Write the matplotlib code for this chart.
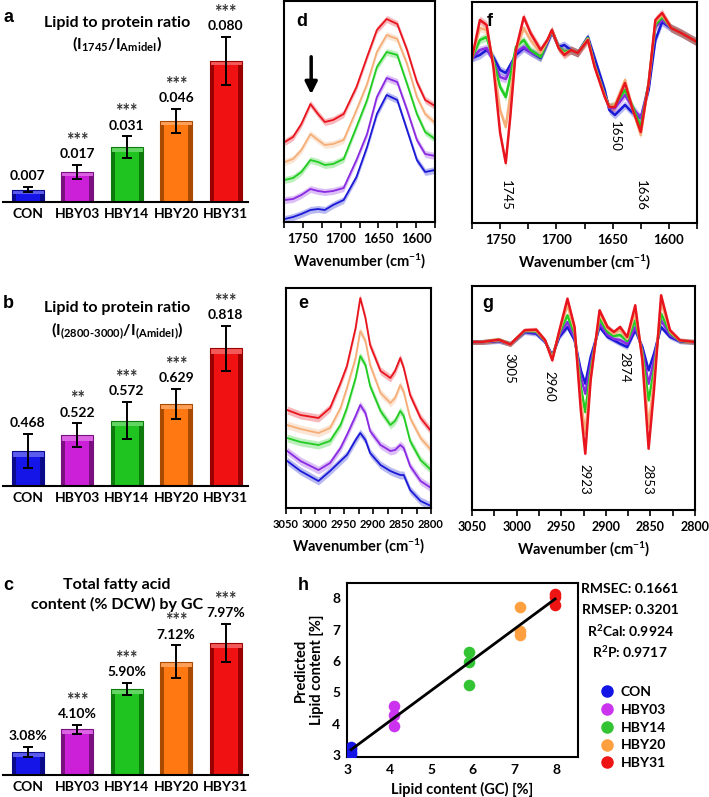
import numpy as np
import matplotlib
matplotlib.use("Agg")
import matplotlib.pyplot as plt
from matplotlib.ticker import MultipleLocator
from matplotlib.lines import Line2D

plt.rcParams['font.family'] = ['Lato', 'DejaVu Sans']
plt.rcParams['font.weight'] = 'bold'
plt.rcParams['axes.labelweight'] = 'bold'
plt.rcParams['mathtext.fontset'] = 'custom'
plt.rcParams['mathtext.rm'] = 'Lato:bold'
plt.rcParams['mathtext.it'] = 'Lato:bold'
plt.rcParams['mathtext.bf'] = 'Lato:bold'
plt.rcParams['mathtext.default'] = 'rm'

W, H = 709, 797

groups = ["CON", "HBY03", "HBY14", "HBY20", "HBY31"]
bar_colors = ["#1515e8", "#cc20d8", "#20c420", "#ff7812", "#f01212"]
bar_edges = ["#0a0a8a", "#7a1080", "#0e7a0e", "#a84a00", "#9a0000"]
line_colors = ["#1a1ad6", "#8a2be2", "#22cc22", "#f5ae78", "#e8141e"]
dot_colors = ["#1414e6", "#cc33ee", "#33c433", "#ffa040", "#ee1414"]

# panel a: lipid to protein ratio (1745 / amide I)
ratio_1745 = [0.007, 0.017, 0.031, 0.046, 0.080]
ratio_1745_err = [0.0015, 0.0042, 0.0062, 0.0068, 0.0136]
stars_a = ["", "***", "***", "***", "***"]

# panel b: lipid to protein ratio (2800-3000 / amide I)
ratio_ch = [0.468, 0.522, 0.572, 0.629, 0.818]
ratio_ch_err = [0.058, 0.041, 0.063, 0.051, 0.078]
stars_b = ["", "**", "***", "***", "***"]

# panel c: total fatty acid content (% DCW) by GC
fa_content = [3.08, 4.10, 5.90, 7.12, 7.97]
fa_content_err = [0.22, 0.2, 0.27, 0.74, 0.87]
stars_c = ["", "***", "***", "***", "***"]

# panel d: mean spectra 1775-1575 cm-1 (offset, arbitrary units)
d_wn = [1774, 1763, 1752, 1740, 1730, 1721, 1710, 1696, 1679, 1665, 1652, 1639, 1625, 1612, 1599, 1588, 1575]
d_con = [3, 5, 8, 12, 13, 12, 17, 22, 45, 75, 108, 127, 122, 92, 62, 50, 52]
d_hby03 = [22, 23, 27, 33, 31, 30, 31, 34, 62, 88, 125, 144, 140, 112, 82, 68, 66]
d_hby14 = [42, 44, 50, 62, 60, 57, 58, 63, 95, 122, 155, 170, 167, 138, 108, 90, 83]
d_hby20 = [60, 63, 72, 88, 82, 77, 78, 82, 112, 138, 170, 187, 183, 158, 125, 108, 99]
d_hby31 = [80, 85, 98, 118, 108, 100, 102, 108, 135, 165, 192, 203, 198, 172, 140, 122, 116]

# panel e: mean spectra 3050-2800 cm-1
e_wn = [3048, 3025, 2994, 2974, 2956, 2945, 2930, 2922, 2913, 2905, 2887, 2870, 2862, 2853, 2847, 2836, 2818, 2800]
e_con = [47, 37, 27, 37, 47, 53, 68, 75, 68, 55, 43, 37, 35, 33, 33, 18, 7, 2]
e_hby03 = [57, 47, 38, 45, 60, 73, 92, 103, 95, 77, 63, 57, 58, 63, 60, 42, 27, 20]
e_hby14 = [70, 66, 63, 67, 83, 100, 130, 152, 143, 122, 97, 83, 87, 97, 92, 67, 48, 38]
e_hby20 = [83, 79, 75, 80, 100, 120, 150, 177, 167, 143, 115, 105, 110, 123, 116, 90, 70, 58]
e_hby31 = [98, 93, 90, 100, 125, 142, 180, 210, 190, 163, 137, 130, 137, 150, 140, 113, 90, 77]

# panel f: second derivative 1775-1575 cm-1
f_wn = [1775, 1768, 1762, 1756, 1750, 1745, 1741, 1736, 1729, 1723, 1714, 1708, 1704, 1698, 1693,
        1687, 1681, 1672, 1666, 1657, 1653, 1648, 1639, 1632, 1625, 1618, 1612, 1606, 1598, 1589, 1575]
f_con = [-3, 0, 5, -2, -15, -18, -10, 0, 7, 3, -3, 12, 23, 8, 10, 5, 2, 18, -3, -35, -55, -60, -50, -58, -63, -35, 15, 33, 27, 22, 13]
f_hby03 = [-3, 5, 7, -6, -22, -24, -14, 3, 8, 3, -2, 13, 24, 8, 3, 5, 2, 17, -10, -40, -53, -53, -40, -53, -63, -30, 28, 35, 27, 22, 13]
f_hby14 = [-3, 15, 18, -5, -32, -42, -22, 8, 15, 5, -2, 14, 24, 8, 3, 5, 2, 17, -10, -40, -52, -50, -35, -52, -72, -28, 30, 38, 27, 22, 13]
f_hby20 = [-3, 27, 25, -8, -55, -72, -40, 5, 27, 15, 2, 14, 25, 7, 1, 5, 2, 16, -11, -41, -52, -50, -25, -55, -80, -28, 33, 40, 27, 22, 13]
f_hby31 = [-3, 35, 30, -12, -78, -108, -62, 5, 38, 22, 5, 15, 25, 7, 0, 5, 2, 15, -12, -42, -52, -52, -28, -55, -77, -28, 35, 42, 27, 22, 13]

# panel g: second derivative 3050-2800 cm-1
g_wn = [3050, 3039, 3020, 3007, 2991, 2978, 2968, 2960, 2952, 2943, 2935, 2928, 2923, 2917,
        2907, 2898, 2891, 2884, 2876, 2867, 2859, 2852, 2846, 2838, 2828, 2817, 2800]
g_con = [0, 0, 1, -1.7, 10, 8.3, 0, -13.3, 5, 15, 1.7, -28.3, -41.7, -15, 15, 5, 1.7, -1.7, -5, 11.7, -5, -28.3, -11.7, 15, 5, 0.7, 0]
g_hby03 = [0, 0, 1.5, -2, 10.5, 9.5, 0.5, -14.3, 7, 20, 4, -35, -51.7, -21.7, 18.3, 7, 3, 2, -2, 15, -8, -41.7, -18.3, 21.7, 7, 1, 0]
g_hby14 = [0, 0, 2, -2, 11, 10.5, 1, -15.7, 9, 26.7, 8, -45, -70, -28.3, 23.3, 10, 6, 7, 1, 21.7, -11, -58.3, -28.3, 28.3, 9, 1.2, 0]
g_hby20 = [0, 0, 2, -2.2, 11.5, 11.5, 1.5, -17, 10.5, 36.7, 12, -58, -91.7, -35, 28.3, 13, 8, 12, 3, 30, -15, -85, -38, 40, 10.5, 1.5, 0]
g_hby31 = [0, 0, 2.3, -2.3, 11.7, 12.3, 1.7, -18.3, 11.7, 43.3, 15, -68.3, -111.7, -38.3, 31.7, 15, 10, 15, 5, 36.7, -18.3, -106.7, -48.3, 46.7, 11.7, 1.7, 0]

# panel h: PLS prediction vs GC
h_gc = [[3.08, 3.08, 3.08, 3.08], [4.10, 4.10, 4.10], [5.90, 5.90, 5.90], [7.12, 7.12, 7.12], [7.97, 7.97, 7.97]]
h_pred = [[3.05, 3.12, 3.22, 3.28], [4.57, 4.28, 3.94], [6.28, 5.98, 5.23], [7.73, 6.97, 6.84], [8.14, 8.03, 7.79]]
h_stats = ["RMSEC: 0.1661", "RMSEP: 0.3201", "R$^2$Cal: 0.9924", "R$^2$P: 0.9717"]

fig = plt.figure(figsize=(W / 100, H / 100), dpi=100)


def add_axes(x0, y0, x1, y1):
    return fig.add_axes([x0 / W, 1 - y1 / H, (x1 - x0) / W, (y1 - y0) / H])


def ftext(x, y, s, **kw):
    fig.text(x / W, 1 - y / H, s, **kw)


def bar_panel(rect, vals, errs, stars, ylim, fmt):
    ax = add_axes(*rect)
    xs = np.arange(len(vals))
    vals = np.array(vals)
    bw = 0.64
    side = 0.08
    top = 0.022 * (ylim[1] - ylim[0])
    # bevelled bar look: dark sides, lighter top rim, main face
    ax.bar(xs, vals, width=bw, color=bar_edges, linewidth=0)
    ax.bar(xs, top, bottom=vals - top, width=bw, color=bar_colors, linewidth=0)
    ax.bar(xs, top, bottom=vals - top, width=bw, color='white', alpha=0.3, linewidth=0)
    ax.bar(xs, vals - top, width=bw - 2 * side, color=bar_colors, linewidth=0)
    ax.bar(xs, vals, width=bw, fill=False, edgecolor=bar_edges, linewidth=0.8)
    ax.errorbar(xs, vals, yerr=errs, fmt='none', ecolor='black', elinewidth=1.4, capsize=3.5, capthick=1.4)
    for x, v, e, s in zip(xs, vals, errs, stars):
        ax.annotate(fmt.format(v), (x, v + e), xytext=(0, 3.5), textcoords='offset points',
                    ha='center', va='bottom', fontsize=10)
        if s:
            ax.annotate(s, (x, v + e), xytext=(0, 11.5), textcoords='offset points',
                        ha='center', va='bottom', fontsize=13, color='#333333')
    ax.set_xlim(-0.5, 4.45)
    ax.set_ylim(ylim)
    ax.set_yticks([])
    ax.set_xticks(xs, groups)
    ax.tick_params(axis='x', length=0, pad=4, labelsize=10)
    for s in ['left', 'right', 'top']:
        ax.spines[s].set_visible(False)
    ax.spines['bottom'].set_linewidth(1.5)
    return ax


bar_panel((3, 0, 248, 202), ratio_1745, ratio_1745_err, stars_a, (0, 0.1146), "{:.3f}")
ftext(8, 18, "a", fontsize=13, family='Liberation Sans', ha='center', va='center')
ftext(117, 23, "Lipid to protein ratio", fontsize=11.5, ha='center', va='center')
ftext(117, 44, "(I$_{1745}$/I$_{AmideI}$)", fontsize=11.5, ha='center', va='center')

bar_panel((3, 240, 248, 486), ratio_ch, ratio_ch_err, stars_b, (0.35, 1.187), "{:.3f}")
ftext(8, 303, "b", fontsize=13, family='Liberation Sans', ha='center', va='center')
ftext(117, 308, "Lipid to protein ratio", fontsize=11.5, ha='center', va='center')
ftext(117, 331, r"(I$_{(2800\text{-}3000)}$/I$_{(AmideI)}$)", fontsize=11.5, ha='center', va='center')

bar_panel((3, 540, 248, 775), fa_content, fa_content_err, stars_c, (2.05, 12.59), "{:.2f}%")
ftext(8, 585, "c", fontsize=13, family='Liberation Sans', ha='center', va='center')
ftext(117, 585, "Total fatty acid", fontsize=11.5, ha='center', va='center')
ftext(117, 604, "content (% DCW) by GC", fontsize=11.5, ha='center', va='center')


def spec_panel(rect, wn, curves, xlim, ylim, band, lw, tsize):
    ax = add_axes(*rect)
    wn = np.array(wn, float)
    for y, c in zip(curves, line_colors):
        y = np.array(y, float)
        ax.fill_between(wn, y - band, y + band, color=c, alpha=0.3, lw=0)
        ax.plot(wn, y, color=c, lw=lw)
    ax.set_xlim(xlim)
    ax.set_ylim(ylim)
    ax.set_yticks([])
    ax.xaxis.set_major_locator(MultipleLocator(50))
    ax.xaxis.set_minor_locator(MultipleLocator(25))
    ax.tick_params(axis='x', which='both', direction='out', length=4, width=1.2, labelsize=tsize, pad=4)
    for s in ax.spines.values():
        s.set_linewidth(1.5)
    ax.set_xlabel("Wavenumber (cm$^{-1}$)", fontsize=10.5, labelpad=5)
    return ax


ax_d = spec_panel((284, 1, 435, 222), d_wn, [d_con, d_hby03, d_hby14, d_hby20, d_hby31],
                  (1775, 1575), (0, 221), 3.5, 1.3, 9.5)
ax_d.annotate("", xy=(1739, 125), xytext=(1739, 168),
              arrowprops=dict(arrowstyle='-|>', lw=2.5, color='black', mutation_scale=18))
ftext(302, 22, "d", fontsize=13, family='Liberation Sans', ha='center', va='center')

spec_panel((286, 288, 431, 508), e_wn, [e_con, e_hby03, e_hby14, e_hby20, e_hby31],
           (3050, 2800), (0, 220), 4, 1.3, 8)
ftext(303, 303, "e", fontsize=13, family='Liberation Sans', ha='center', va='center')

ax_f = spec_panel((472, 2, 697, 223), f_wn, [f_con, f_hby03, f_hby14, f_hby20, f_hby31],
                  (1775, 1575), (-168, 53), 4, 1.8, 9.5)
ftext(490, 22, "f", fontsize=13, family='Liberation Sans', ha='center', va='center')
for wn, v, s in [(1745, -140, "1745"), (1648, -81, "1650"), (1625, -140, "1636")]:
    ax_f.text(wn, v, s, rotation=-90, ha='center', va='center', fontsize=9.5, fontweight='normal')

ax_g = spec_panel((472, 286, 695, 510), g_wn, [g_con, g_hby03, g_hby14, g_hby20, g_hby31],
                  (3050, 2800), (-168, 56), 2.5, 1.8, 9)
ftext(488, 303, "g", fontsize=13, family='Liberation Sans', ha='center', va='center')
for wn, v, s in [(3008, -26, "3005"), (2963, -44, "2960"), (2924, -137, "2923"),
                 (2879, -25, "2874"), (2853, -137, "2853")]:
    ax_g.text(wn, v, s, rotation=-90, ha='center', va='center', fontsize=9.5, fontweight='normal')

# panel h
ax_h = add_axes(347, 583, 578, 757)
for xs, ys, c in zip(h_gc, h_pred, dot_colors):
    ax_h.scatter(xs, ys, s=70, color=c, zorder=3, linewidths=0)
all_x = np.concatenate([np.array(v) for v in h_gc])
all_y = np.concatenate([np.array(v) for v in h_pred])
k, b0 = np.polyfit(all_x, all_y, 1)
xl = np.array([all_x.min(), all_x.max()])
ax_h.plot(xl, k * xl + b0, color='black', lw=2, zorder=4)
ax_h.set_xlim(2.98, 8.52)
ax_h.set_ylim(2.95, 8.48)
ax_h.set_xticks([3, 4, 5, 6, 7, 8])
ax_h.set_yticks([3, 4, 5, 6, 7, 8])
ax_h.tick_params(length=0, labelsize=10, pad=5)
for s in ax_h.spines.values():
    s.set_linewidth(1.5)
ax_h.set_xlabel("Lipid content (GC) [%]", fontsize=10.5, labelpad=4)
ax_h.set_ylabel("Predicted\nLipid content [%]", fontsize=10.5, labelpad=6, linespacing=1.1)
ftext(303, 585, "h", fontsize=13, family='Liberation Sans', ha='center', va='center')
for i, s in enumerate(h_stats):
    ftext(630, 589 + i * 21, s, fontsize=10, ha='center', va='center')
handles = [Line2D([], [], marker='o', ls='', color=c, markersize=8) for c in dot_colors]
fig.legend(handles, groups, loc='upper left', bbox_to_anchor=(592 / W, 1 - 679 / H),
           frameon=False, fontsize=10, handletextpad=0.35, labelspacing=0.42,
           borderpad=0, handlelength=1.2)

fig.savefig("out.png", dpi=100)
